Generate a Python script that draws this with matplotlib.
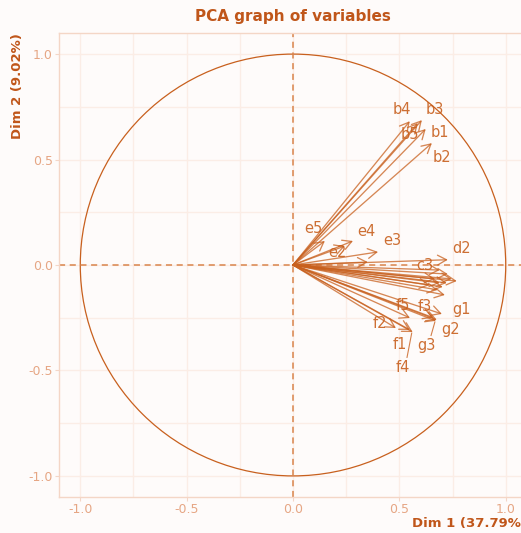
import numpy as np
import matplotlib
matplotlib.use("Agg")
import matplotlib.pyplot as plt
from matplotlib.patches import FancyArrowPatch, Circle

# ---- data (coordinates of variables on Dim 1 / Dim 2) ----
names = ["b1", "b2", "b3", "b4", "b5",
         "e1", "e2", "e3", "e4", "e5",
         "d1", "d2", "d3",
         "c1", "c2", "c3", "c4",
         "a1", "a2", "a3", "a4", "a5",
         "f1", "f2", "f3", "f4", "f5",
         "g1", "g2", "g3"]
dim1 = [0.624, 0.653, 0.606, 0.549, 0.587,
        0.352, 0.244, 0.400, 0.282, 0.150,
        0.728, 0.728, 0.643,
        0.690, 0.667, 0.690, 0.680,
        0.770, 0.746, 0.723, 0.704, 0.714,
        0.550, 0.484, 0.660, 0.563, 0.550,
        0.700, 0.676, 0.672]
dim2 = [0.645, 0.578, 0.687, 0.682, 0.673,
        0.014, 0.090, 0.062, 0.114, 0.114,
        -0.043, 0.025, -0.095,
        -0.085, -0.066, -0.024, -0.118,
        -0.076, -0.066, -0.085, -0.104, -0.142,
        -0.308, -0.299, -0.250, -0.318, -0.251,
        -0.232, -0.260, -0.265]

# labels that are visible (others were dropped due to overlap)
label_pos = {
    "b4": (0.512, 0.735), "b3": (0.667, 0.735), "b5": (0.549, 0.621),
    "b1": (0.690, 0.630), "b2": (0.700, 0.512),
    "e5": (0.094, 0.171), "e4": (0.347, 0.161), "e3": (0.465, 0.114),
    "e2": (0.207, 0.057), "d2": (0.793, 0.076), "c3": (0.620, 0.000),
    "f5": (0.516, -0.190), "f3": (0.620, -0.199), "g1": (0.793, -0.209),
    "f2": (0.408, -0.275), "g2": (0.742, -0.308), "f1": (0.502, -0.379),
    "g3": (0.629, -0.384), "f4": (0.516, -0.488),
}
segment_labels = ["f4", "g3"]

title = "PCA graph of variables"
xlab = "Dim 1 (37.79%)"
ylab = "Dim 2 (9.02%)"

# ---- style ----
main_col = "#C8601E"
title_col = "#C0561A"
tick_col = "#E6A684"
grid_col = "#FBEDE6"
border_col = "#F4D6C6"
bg_col = "#FEFBFA"

fig = plt.figure(figsize=(5.21, 5.33), dpi=100, facecolor=bg_col)
ax = fig.add_axes([59 / 521, 36 / 533, 468 / 521, 464 / 533])
ax.set_facecolor(bg_col)
ax.set_xlim(-1.1, 1.1)
ax.set_ylim(-1.1, 1.1)

ticks = [-1.0, -0.5, 0.0, 0.5, 1.0]
ax.set_xticks(ticks)
ax.set_yticks(ticks)
ax.set_xticklabels([f"{t:.1f}" for t in ticks])
ax.set_yticklabels([f"{t:.1f}" for t in ticks])
ax.set_xticks([-0.75, -0.25, 0.25, 0.75], minor=True)
ax.set_yticks([-0.75, -0.25, 0.25, 0.75], minor=True)
ax.grid(True, which="both", color=grid_col, linewidth=1.0, zorder=0)
ax.set_axisbelow(True)
ax.tick_params(which="major", colors=border_col, labelcolor=tick_col,
               labelsize=9, length=3, width=0.8, pad=1.5)
ax.tick_params(which="minor", length=0)
for s in ax.spines.values():
    s.set_color(border_col)
    s.set_linewidth(1.0)

# unit circle and reference lines
circ = Circle((0, 0), 1.0, fill=False, edgecolor=main_col, linewidth=0.9, zorder=2)
ax.add_patch(circ)
ax.axhline(0, color="#D9844C", linestyle=(0, (4, 3)), linewidth=1.1, zorder=2)
ax.axvline(0, color="#D9844C", linestyle=(0, (4, 3)), linewidth=1.1, zorder=2)

# arrows
for n, x, y in zip(names, dim1, dim2):
    arr = FancyArrowPatch((0, 0), (x, y),
                          arrowstyle="->,head_length=4,head_width=2.2",
                          color=main_col, alpha=0.75, linewidth=0.95,
                          shrinkA=0, shrinkB=0, mutation_scale=1.6, zorder=3)
    ax.add_patch(arr)

# labels
coords = {n: (x, y) for n, x, y in zip(names, dim1, dim2)}
for n, (lx, ly) in label_pos.items():
    if n in segment_labels:
        tx, ty = coords[n]
        ax.plot([lx + 0.02, tx - 0.005], [ly + 0.05, ty - 0.005],
                color=main_col, alpha=0.8, linewidth=0.8, zorder=3)
    ax.text(lx, ly, n, color=main_col, fontsize=10.5, ha="center", va="center",
            alpha=0.9, zorder=4)

fig.text(0.5 * (59 + 527) / 521, 1 - 17 / 533, title, color=title_col,
         fontsize=11, fontweight="bold", ha="center", va="center")
fig.text(1.0116, 1 - 523 / 533, xlab, color=title_col, fontsize=9.5,
         fontweight="bold", ha="right", va="center")
fig.text(18 / 521, 1 - 33 / 533, ylab, color=title_col, fontsize=9.5,
         fontweight="bold", ha="center", va="top", rotation=90)

fig.savefig("out.png", dpi=100, facecolor=bg_col)
